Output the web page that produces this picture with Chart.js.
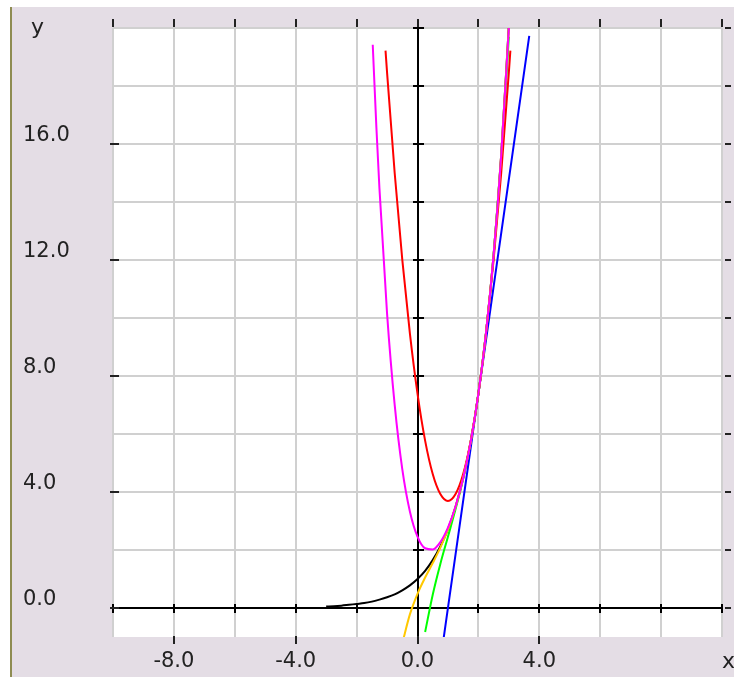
<!DOCTYPE html>
<html>
<head>
<meta charset="utf-8">
<script src="https://cdn.jsdelivr.net/npm/chart.js@4.4.1/dist/chart.umd.min.js"></script>
<style>
  html, body { margin: 0; padding: 0; background: #fff; }
  #wrap { width: 734px; height: 677px; }
</style>
</head>
<body>
<div id="wrap"><canvas id="plot" width="734" height="677"></canvas></div>
<script>
// axis ticks / labels
const xTicks = [-10, -8, -6, -4, -2, 0, 2, 4, 6, 8, 10];
const xLabelVals = [-8, -4, 0, 4];
const yTicks = [0, 2, 4, 6, 8, 10, 12, 14, 16, 18, 20];
const yLabelVals = [0, 4, 8, 12, 16];

// black curve
const expX = [-3, -2.75, -2.5, -2.25, -2, -1.75, -1.5, -1.25, -1, -0.75, -0.5, -0.25, 0, 0.25, 0.5, 0.75, 1, 1.25, 1.5, 1.75, 2, 2.25, 2.5, 2.75, 3];
const expY = [0.05, 0.06, 0.08, 0.11, 0.14, 0.17, 0.22, 0.29, 0.37, 0.47, 0.61, 0.78, 1.0, 1.28, 1.65, 2.12, 2.72, 3.49, 4.48, 5.75, 7.39, 9.49, 12.18, 15.64, 20.09];

// blue line
const blueX = [0.86, 3.67];
const blueY = [-1.03, 19.73];

// red curve
const redX = [-1.05, -1, -0.75, -0.5, -0.25, 0, 0.25, 0.5, 0.75, 1, 1.25, 1.5, 1.75, 2, 2.25, 2.5, 2.75, 3, 3.05];
const redY = [19.22, 18.47, 15.01, 12.01, 9.47, 7.39, 5.77, 4.62, 3.93, 3.69, 3.93, 4.62, 5.77, 7.39, 9.47, 12.01, 15.01, 18.47, 19.22];

// green curve
const greenX = [0.25, 0.5, 0.75, 1, 1.25, 1.5, 1.75, 2, 2.25, 2.5, 2.75, 3];
const greenY = [-0.83, 0.46, 1.52, 2.46, 3.41, 4.46, 5.75, 7.39, 9.49, 12.16, 15.53, 19.70];

// magenta curve
const magentaX = [-1.47, -1.35, -1.25, -1, -0.75, -0.5, -0.25, 0, 0.25, 0.5, 0.75, 1, 1.25, 1.5, 1.75, 2, 2.25, 2.5, 2.75, 3];
const magentaY = [19.42, 16.57, 14.47, 10.16, 7.01, 4.79, 3.33, 2.46, 2.06, 2.02, 2.27, 2.77, 3.50, 4.48, 5.75, 7.39, 9.49, 12.18, 15.63, 20.01];

// orange curve
const orangeX = [-0.5, -0.25, 0, 0.25, 0.5, 0.75, 1, 1.25, 1.5, 1.75, 2, 2.25, 2.5, 2.75, 3];
const orangeY = [-1.22, -0.22, 0.49, 1.05, 1.55, 2.08, 2.71, 3.49, 4.48, 5.75, 7.39, 9.49, 12.18, 15.64, 20.07];

function pts(xs, ys) {
    return xs.map((x, i) => ({ x: x, y: ys[i] }));
}

function series(xs, ys, color) {
    return {
        data: pts(xs, ys),
        borderColor: color,
        borderWidth: 2,
        pointRadius: 0,
        showLine: true,
        fill: false,
        cubicInterpolationMode: 'monotone',
        clip: 0
    };
}

// frame, axis lines and the little tick marks
const frame = {
    id: 'frame',
    beforeDraw(chart) {
        const c = chart.ctx;
        const a = chart.chartArea;
        c.save();
        c.fillStyle = '#ffffff';
        c.fillRect(0, 0, chart.width, chart.height);
        c.fillStyle = '#e4dde5';
        c.fillRect(11, 7, chart.width - 11, chart.height - 7);
        c.fillStyle = '#8e8c52';
        c.fillRect(10, 7, 2, chart.height - 7);
        c.fillStyle = '#ffffff';
        c.fillRect(a.left, a.top, a.right - a.left, a.bottom - a.top);
        c.restore();
    },
    beforeDatasetsDraw(chart) {
        const c = chart.ctx;
        const a = chart.chartArea;
        const xs = chart.scales.x;
        const ys = chart.scales.y;
        const x0 = Math.round(xs.getPixelForValue(0));
        const y0 = Math.round(ys.getPixelForValue(0));

        c.save();
        c.strokeStyle = '#000';
        c.lineWidth = 2;
        c.beginPath();
        c.moveTo(a.left, y0); c.lineTo(a.right, y0);
        c.moveTo(x0, a.top); c.lineTo(x0, a.bottom);

        xTicks.forEach(v => {
            const p = Math.round(xs.getPixelForValue(v));
            c.moveTo(p, y0 - 4); c.lineTo(p, y0 + 5);
        });
        yTicks.forEach(v => {
            const p = Math.round(ys.getPixelForValue(v));
            c.moveTo(x0 - 5, p); c.lineTo(x0 + 6, p);
        });
        c.stroke();

        c.strokeStyle = '#222';
        c.beginPath();
        xTicks.forEach(v => {
            const p = Math.round(xs.getPixelForValue(v));
            c.moveTo(p, a.top - 9); c.lineTo(p, a.top - 1);
        });
        yTicks.forEach(v => {
            const p = Math.round(ys.getPixelForValue(v));
            c.moveTo(a.right + 3, p); c.lineTo(a.right + 9, p);
        });
        yLabelVals.forEach(v => {
            const p = Math.round(ys.getPixelForValue(v));
            c.moveTo(a.left - 3, p); c.lineTo(a.left + 6, p);
        });
        xLabelVals.forEach(v => {
            const p = Math.round(xs.getPixelForValue(v));
            c.moveTo(p, a.bottom - 1); c.lineTo(p, a.bottom + 7);
        });
        c.stroke();
        c.restore();
    },
    afterDraw(chart) {
        const c = chart.ctx;
        c.save();
        c.fillStyle = '#222';
        c.font = '22px "DejaVu Sans"';
        c.textAlign = 'left';
        c.textBaseline = 'alphabetic';
        c.fillText('y', 31, 34);
        c.fillText('x', 722, 668);
        c.restore();
    }
};

Chart.defaults.font.family = '"DejaVu Sans", sans-serif';
Chart.defaults.font.size = 21;
Chart.defaults.color = '#222';

new Chart(document.getElementById('plot'), {
    type: 'scatter',
    data: {
        datasets: [
            series(magentaX, magentaY, '#ff00ff'),
            series(orangeX, orangeY, '#ffc800'),
            series(redX, redY, '#ff0000'),
            series(greenX, greenY, '#00ff00'),
            series(blueX, blueY, '#0000ff'),
            series(expX, expY, '#000000')
        ]
    },
    options: {
        responsive: false,
        animation: false,
        layout: { padding: { left: 23, top: 28, right: 10, bottom: 0 } },
        plugins: {
            legend: { display: false },
            tooltip: { enabled: false }
        },
        scales: {
            x: {
                type: 'linear',
                position: 'bottom',
                min: -10,
                max: 10,
                afterBuildTicks: s => { s.ticks = xTicks.map(v => ({ value: v })); },
                afterFit: s => { s.height = 40; },
                grid: { color: '#d0d0d0', lineWidth: 2, drawTicks: false },
                border: { display: false },
                ticks: {
                    autoSkip: false,
                    maxRotation: 0,
                    padding: 12,
                    callback: v => xLabelVals.includes(v) ? v.toFixed(1) : ''
                }
            },
            y: {
                type: 'linear',
                position: 'left',
                min: -1,
                max: 20,
                afterBuildTicks: s => { s.ticks = yTicks.map(v => ({ value: v })); },
                afterFit: s => { s.width = 90; },
                grid: { color: '#d0d0d0', lineWidth: 2, drawTicks: false },
                border: { display: false },
                ticks: {
                    autoSkip: false,
                    crossAlign: 'far',
                    labelOffset: -8,
                    callback: v => yLabelVals.includes(v) ? v.toFixed(1) : ''
                }
            }
        }
    },
    plugins: [frame]
});
</script>
</body>
</html>
